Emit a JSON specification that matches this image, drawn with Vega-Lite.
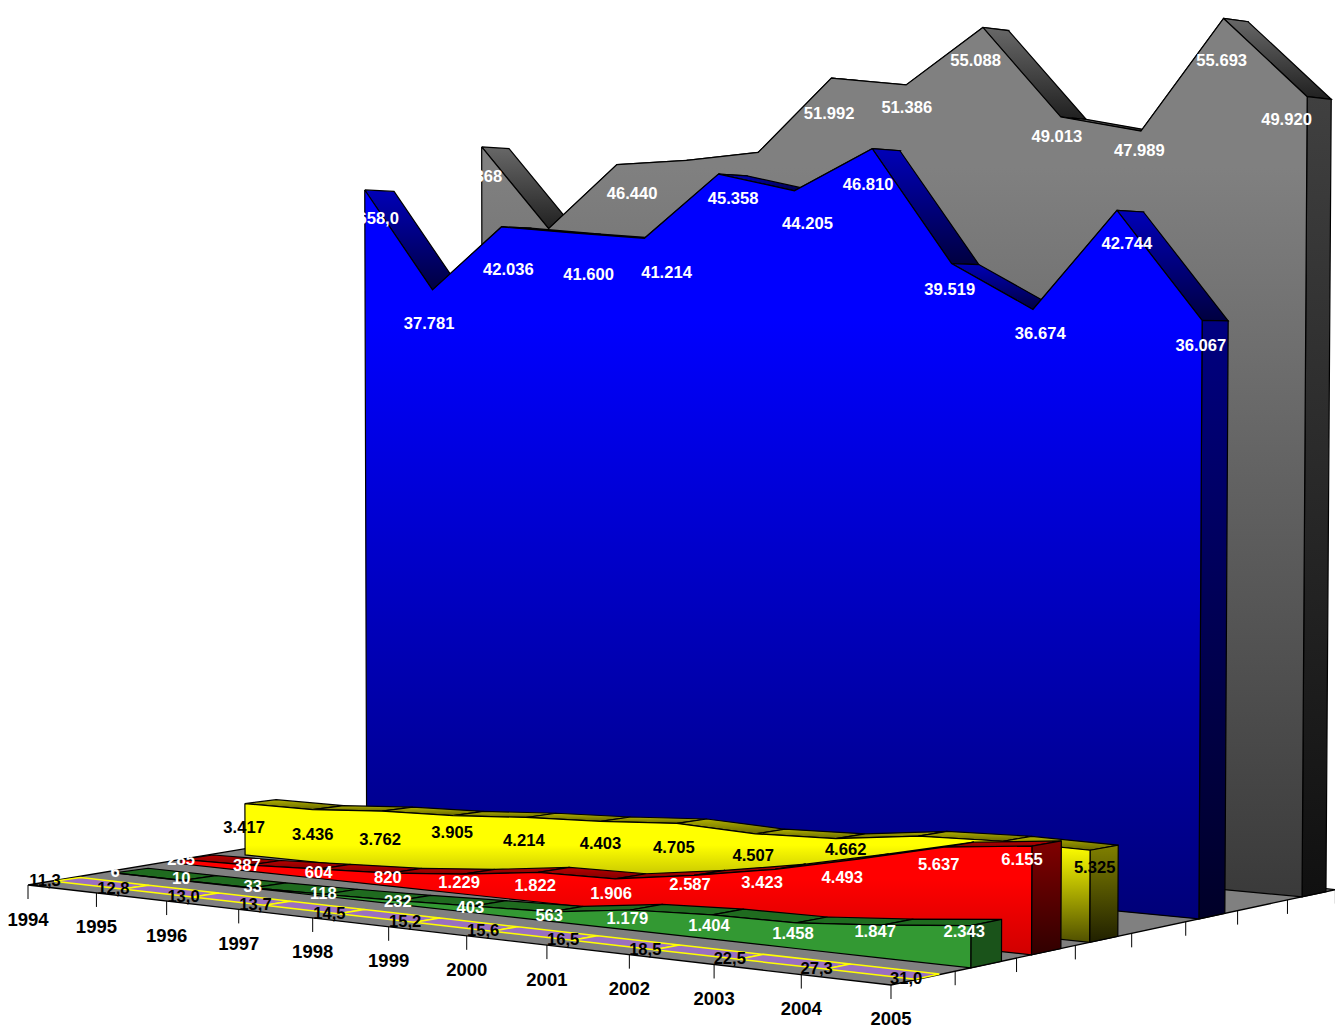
{"$schema":"https://vega.github.io/schema/vega-lite/v6.json","width":1335,"height":1029,"padding":0,"autosize":{"type":"none"},"background":"white","view":{"stroke":null},
"config":{"text":{"font":"Liberation Sans","fontWeight":"bold","fontSize":16.6,"align":"center","baseline":"middle"},"line":{"strokeWidth":1.2}},
"data":{"values":[
{"series":"Gray","year":1994,"value":47868,"label":"47.868"},{"series":"Gray","year":1995,"value":42030,"label":"42.030"},{"series":"Gray","year":1996,"value":46440,"label":"46.440"},{"series":"Gray","year":1997,"value":46650,"label":"46.650"},{"series":"Gray","year":1998,"value":47100,"label":"47.100"},{"series":"Gray","year":1999,"value":51992,"label":"51.992"},{"series":"Gray","year":2000,"value":51386,"label":"51.386"},{"series":"Gray","year":2001,"value":55088,"label":"55.088"},{"series":"Gray","year":2002,"value":49013,"label":"49.013"},{"series":"Gray","year":2003,"value":47989,"label":"47.989"},{"series":"Gray","year":2004,"value":55693,"label":"55.693"},{"series":"Gray","year":2005,"value":49920,"label":"49.920"},
{"series":"Blue","year":1994,"value":44658,"label":"44.658,0"},{"series":"Blue","year":1995,"value":37781,"label":"37.781"},{"series":"Blue","year":1996,"value":42036,"label":"42.036"},{"series":"Blue","year":1997,"value":41600,"label":"41.600"},{"series":"Blue","year":1998,"value":41214,"label":"41.214"},{"series":"Blue","year":1999,"value":45358,"label":"45.358"},{"series":"Blue","year":2000,"value":44205,"label":"44.205"},{"series":"Blue","year":2001,"value":46810,"label":"46.810"},{"series":"Blue","year":2002,"value":39519,"label":"39.519"},{"series":"Blue","year":2003,"value":36674,"label":"36.674"},{"series":"Blue","year":2004,"value":42744,"label":"42.744"},{"series":"Blue","year":2005,"value":36067,"label":"36.067"},
{"series":"Yellow","year":1994,"value":3417,"label":"3.417"},{"series":"Yellow","year":1995,"value":3436,"label":"3.436"},{"series":"Yellow","year":1996,"value":3762,"label":"3.762"},{"series":"Yellow","year":1997,"value":3905,"label":"3.905"},{"series":"Yellow","year":1998,"value":4214,"label":"4.214"},{"series":"Yellow","year":1999,"value":4403,"label":"4.403"},{"series":"Yellow","year":2000,"value":4705,"label":"4.705"},{"series":"Yellow","year":2001,"value":4507,"label":"4.507"},{"series":"Yellow","year":2002,"value":4662,"label":"4.662"},{"series":"Yellow","year":2003,"value":5250,"label":"5.250"},{"series":"Yellow","year":2004,"value":5400,"label":"5.400"},{"series":"Yellow","year":2005,"value":5325,"label":"5.325"},
{"series":"Red","year":1994,"value":285,"label":"285"},{"series":"Red","year":1995,"value":387,"label":"387"},{"series":"Red","year":1996,"value":604,"label":"604"},{"series":"Red","year":1997,"value":820,"label":"820"},{"series":"Red","year":1998,"value":1229,"label":"1.229"},{"series":"Red","year":1999,"value":1822,"label":"1.822"},{"series":"Red","year":2000,"value":1906,"label":"1.906"},{"series":"Red","year":2001,"value":2587,"label":"2.587"},{"series":"Red","year":2002,"value":3423,"label":"3.423"},{"series":"Red","year":2003,"value":4493,"label":"4.493"},{"series":"Red","year":2004,"value":5637,"label":"5.637"},{"series":"Red","year":2005,"value":6155,"label":"6.155"},
{"series":"Green","year":1994,"value":6,"label":"6"},{"series":"Green","year":1995,"value":10,"label":"10"},{"series":"Green","year":1996,"value":33,"label":"33"},{"series":"Green","year":1997,"value":118,"label":"118"},{"series":"Green","year":1998,"value":232,"label":"232"},{"series":"Green","year":1999,"value":403,"label":"403"},{"series":"Green","year":2000,"value":563,"label":"563"},{"series":"Green","year":2001,"value":1179,"label":"1.179"},{"series":"Green","year":2002,"value":1404,"label":"1.404"},{"series":"Green","year":2003,"value":1458,"label":"1.458"},{"series":"Green","year":2004,"value":1847,"label":"1.847"},{"series":"Green","year":2005,"value":2343,"label":"2.343"},
{"series":"Purple","year":1994,"value":11.3,"label":"11,3"},{"series":"Purple","year":1995,"value":12.8,"label":"12,8"},{"series":"Purple","year":1996,"value":13.0,"label":"13,0"},{"series":"Purple","year":1997,"value":13.7,"label":"13,7"},{"series":"Purple","year":1998,"value":14.5,"label":"14,5"},{"series":"Purple","year":1999,"value":15.2,"label":"15,2"},{"series":"Purple","year":2000,"value":15.6,"label":"15,6"},{"series":"Purple","year":2001,"value":16.5,"label":"16,5"},{"series":"Purple","year":2002,"value":18.5,"label":"18,5"},{"series":"Purple","year":2003,"value":22.5,"label":"22,5"},{"series":"Purple","year":2004,"value":27.3,"label":"27,3"},{"series":"Purple","year":2005,"value":31.0,"label":"31,0"}
]},
"transform":[
{"calculate":"datum.year-1994","as":"u"},
{"window":[{"op":"lead","field":"value","as":"next"}],"groupby":["series"],"sort":[{"field":"year","order":"ascending"}]},
{"calculate":"{Purple:0.37,Green:1.25,Red:2.25,Yellow:3.25,Blue:5.25,Gray:7.3}[datum.series]","as":"dF"},
{"calculate":"{Purple:0.75,Green:1.75,Red:2.75,Yellow:3.75,Blue:5.75,Gray:7.8}[datum.series]","as":"dB"},
{"calculate":"{Gray:[-6,-3,15,27,12,-1,2.5,-4.5,-1,2,3,-15.5],Blue:[0,-4.6,6,16,22,15,14,-2.5,0,9.5,13,2],Yellow:[-1,0,-2,-1,-2,0,-3,-2,10,0,0,5],Red:[0,-2,0,-2,-4,-3,-4,-4,-13,-16,-5,-9.5],Green:[0.6,-1.6,0,-1,0,-3,-1.6,-3,-3,-3,-7,-6.6],Purple:[-9,-9,-9,-9,-9,-9,-9,-9,-9,-9,-9,-9]}[datum.series][datum.u]","as":"ldx"},
{"calculate":"{Gray:[29,44,28,50,44,35,22,33,19,19,42,22],Blue:[28,33,42,41,33.5,24,32,35,25,24,33,25],Yellow:[23.5,24,28,16,22.5,22,24,21,10,30,30,17],Red:[0,0,3,4,8,13,14,9,13,18,17,13],Green:[-2,-2.5,-2,-1,0,1,3,8,10,10,6,5],Purple:[-1,-1,-1,-1,-1,-1,-1,-1,-1,-1,-1,-1]}[datum.series][datum.u]","as":"ldy"},
{"calculate":"datum.series=='Purple'?'xtick':'x'","as":"rp"},
{"calculate":"datum.series=='Purple'&&datum.u==0?'floor':'x'","as":"r0"},
{"calculate":"datum.series=='Purple'&&datum.u==11?'floor':'x'","as":"r1"},
{"calculate":"datum.series=='Purple'&&datum.u==11?'dtick':'x'","as":"rd"},
{"calculate":"datum.u<11?'top':'x'","as":"rt"},
{"calculate":"datum.u==11?'side':'x'","as":"rs"},
{"calculate":"[{r:'front',g:0,o:datum.u,u:datum.u,d:datum.dF,v:datum.value},{r:'front',g:0,o:100-datum.u,u:datum.u,d:datum.dF,v:0},{r:datum.u==0?'front':'x',g:0,o:200,u:datum.u,d:datum.dF,v:datum.value},{r:datum.rt,g:datum.u,o:0,u:datum.u,d:datum.dF,v:datum.value},{r:datum.rt,g:datum.u,o:1,u:datum.u+1,d:datum.dF,v:datum.next},{r:datum.rt,g:datum.u,o:2,u:datum.u+1,d:datum.dB,v:datum.next},{r:datum.rt,g:datum.u,o:3,u:datum.u,d:datum.dB,v:datum.value},{r:datum.rt,g:datum.u,o:4,u:datum.u,d:datum.dF,v:datum.value},{r:datum.rs,g:0,o:0,u:11,d:datum.dF,v:datum.value},{r:datum.rs,g:0,o:1,u:11,d:datum.dB,v:datum.value},{r:datum.rs,g:0,o:2,u:11,d:datum.dB,v:0},{r:datum.rs,g:0,o:3,u:11,d:datum.dF,v:0},{r:datum.rs,g:0,o:4,u:11,d:datum.dF,v:datum.value},{r:'label',g:0,o:0,u:datum.u,d:datum.dF,v:datum.value},{r:datum.r0,g:0,o:0,u:0,d:0,v:0},{r:datum.r1,g:0,o:1,u:11,d:0,v:0},{r:datum.r1,g:0,o:2,u:11,d:8,v:0},{r:datum.r0,g:0,o:3,u:0,d:8,v:1000},{r:datum.r0,g:0,o:4,u:0,d:0,v:0},{r:datum.rp,g:0,o:0,u:datum.u,d:0,v:0},{r:datum.rd,g:1,o:0,u:11,d:1,v:0},{r:datum.rd,g:2,o:0,u:11,d:2,v:0},{r:datum.rd,g:3,o:0,u:11,d:3,v:0},{r:datum.rd,g:4,o:0,u:11,d:4,v:0},{r:datum.rd,g:5,o:0,u:11,d:5,v:0},{r:datum.rd,g:6,o:0,u:11,d:6,v:0},{r:datum.rd,g:7,o:0,u:11,d:7,v:0},{r:datum.rd,g:8,o:0,u:11,d:8,v:0}]","as":"c"},
{"flatten":["c"]},
{"filter":"datum.c.r!='x'"},
{"calculate":"datum.c.r","as":"r"},
{"calculate":"datum.c.g","as":"g"},
{"calculate":"datum.c.o","as":"o"},
{"calculate":"datum.c.u/11+0.035*(datum.c.u/11)*(1-datum.c.u/11)","as":"S"},
{"calculate":"datum.c.d/8","as":"T"},
{"calculate":"1-0.168*datum.S+0.151*datum.T","as":"W"},
{"calculate":"(713.3*datum.S+571.4*datum.T+28)/datum.W","as":"bx"},
{"calculate":"(-65.5*datum.S+55*datum.T+885)/datum.W","as":"by"},
{"calculate":"min(datum.c.v,55000)*(0.01595-0.0005*datum.S)/datum.W*(datum.c.d>7?1.006:1)","as":"H"},
{"calculate":"datum.bx+(datum.bx-660)*0.00001*datum.H","as":"X"},
{"calculate":"datum.by-datum.H","as":"Y"},
{"calculate":"datum.Y+14","as":"Y2"},
{"calculate":"datum.bx+datum.ldx","as":"LX"},
{"calculate":"datum.Y+datum.ldy+1","as":"LY"}
],
"encoding":{"x":{"field":"X","type":"quantitative","scale":{"domain":[0,1335],"range":[0,1335],"nice":false,"zero":false},"axis":null},"y":{"field":"Y","type":"quantitative","scale":{"domain":[0,1029],"range":[0,1029],"nice":false,"zero":false},"axis":null},"order":{"field":"o","type":"quantitative"},"detail":{"field":"g","type":"nominal"}},
"layer":[
{"transform":[{"filter":"datum.r=='floor'"}],"mark":{"type":"line","fill":"#808080","stroke":"black","strokeWidth":1.3}},
{"transform":[{"filter":"datum.r=='xtick'||datum.r=='dtick'"}],"mark":{"type":"rule","stroke":"black","strokeWidth":1},"encoding":{"y2":{"field":"Y2"},"detail":{"field":"year","type":"nominal"},"order":null}},
{"transform":[{"filter":"datum.r=='xtick'"}],"mark":{"type":"text","dy":34.5,"fontSize":18.5,"fill":"black"},"encoding":{"text":{"field":"year","type":"nominal"},"order":null,"detail":null}},

{"transform":[{"filter":"datum.r=='top'&&datum.series=='Gray'"}],"mark":{"type":"line","stroke":"black","fill":{"gradient":"linear","x1":0,"y1":0,"x2":0,"y2":1,"stops":[{"offset":0,"color":"#686868"},{"offset":1,"color":"#202020"}]}}},
{"transform":[{"filter":"datum.r=='side'&&datum.series=='Gray'"}],"mark":{"type":"line","stroke":"black","fill":{"gradient":"linear","x1":0,"y1":0,"x2":0,"y2":1,"stops":[{"offset":0,"color":"#404040"},{"offset":1,"color":"#101010"}]}}},
{"transform":[{"filter":"datum.r=='front'&&datum.series=='Gray'"}],"mark":{"type":"line","stroke":"black","fill":{"gradient":"linear","x1":0,"y1":0,"x2":0,"y2":1,"stops":[{"offset":0,"color":"#808080"},{"offset":0.17,"color":"#808080"},{"offset":1,"color":"#3a3a3a"}]}}},
{"transform":[{"filter":"datum.r=='label'&&datum.series=='Gray'"}],"mark":{"type":"text","fill":"white"},"encoding":{"x":{"field":"LX","type":"quantitative"},"y":{"field":"LY","type":"quantitative"},"text":{"field":"label"},"order":null,"detail":null}},

{"transform":[{"filter":"datum.r=='top'&&datum.series=='Blue'"}],"mark":{"type":"line","stroke":"black","fill":{"gradient":"linear","x1":0,"y1":0,"x2":0,"y2":1,"stops":[{"offset":0,"color":"#0000b8"},{"offset":1,"color":"#000040"}]}}},
{"transform":[{"filter":"datum.r=='side'&&datum.series=='Blue'"}],"mark":{"type":"line","stroke":"black","fill":{"gradient":"linear","x1":0,"y1":0,"x2":0,"y2":1,"stops":[{"offset":0,"color":"#000080"},{"offset":1,"color":"#000028"}]}}},
{"transform":[{"filter":"datum.r=='front'&&datum.series=='Blue'"}],"mark":{"type":"line","stroke":"black","fill":{"gradient":"linear","x1":0,"y1":0,"x2":0,"y2":1,"stops":[{"offset":0,"color":"#0000ff"},{"offset":0.22,"color":"#0000ff"},{"offset":1,"color":"#000078"}]}}},
{"transform":[{"filter":"datum.r=='label'&&datum.series=='Blue'"}],"mark":{"type":"text","fill":"white"},"encoding":{"x":{"field":"LX","type":"quantitative"},"y":{"field":"LY","type":"quantitative"},"text":{"field":"label"},"order":null,"detail":null}},

{"transform":[{"filter":"datum.r=='top'&&datum.series=='Yellow'"}],"mark":{"type":"line","stroke":"black","fill":{"gradient":"linear","x1":0,"y1":0,"x2":0,"y2":1,"stops":[{"offset":0,"color":"#b0b000"},{"offset":1,"color":"#666600"}]}}},
{"transform":[{"filter":"datum.r=='side'&&datum.series=='Yellow'"}],"mark":{"type":"line","stroke":"black","fill":{"gradient":"linear","x1":0,"y1":0,"x2":0,"y2":1,"stops":[{"offset":0,"color":"#808000"},{"offset":1,"color":"#202000"}]}}},
{"transform":[{"filter":"datum.r=='front'&&datum.series=='Yellow'"}],"mark":{"type":"line","stroke":"black","fill":{"gradient":"linear","x1":0,"y1":0,"x2":0,"y2":1,"stops":[{"offset":0,"color":"#ffff00"},{"offset":0.3,"color":"#ffff00"},{"offset":1,"color":"#505000"}]}}},
{"transform":[{"filter":"datum.r=='label'&&datum.series=='Yellow'"}],"mark":{"type":"text","fill":"black"},"encoding":{"x":{"field":"LX","type":"quantitative"},"y":{"field":"LY","type":"quantitative"},"text":{"field":"label"},"order":null,"detail":null}},

{"transform":[{"filter":"datum.r=='top'&&datum.series=='Red'"}],"mark":{"type":"line","stroke":"black","fill":{"gradient":"linear","x1":0,"y1":0,"x2":0,"y2":1,"stops":[{"offset":0,"color":"#b80000"},{"offset":1,"color":"#800000"}]}}},
{"transform":[{"filter":"datum.r=='side'&&datum.series=='Red'"}],"mark":{"type":"line","stroke":"black","fill":{"gradient":"linear","x1":0,"y1":0,"x2":0,"y2":1,"stops":[{"offset":0,"color":"#800000"},{"offset":1,"color":"#300000"}]}}},
{"transform":[{"filter":"datum.r=='front'&&datum.series=='Red'"}],"mark":{"type":"line","stroke":"black","fill":{"gradient":"linear","x1":0,"y1":0,"x2":0,"y2":1,"stops":[{"offset":0,"color":"#ff0000"},{"offset":0.3,"color":"#ff0000"},{"offset":1,"color":"#d00000"}]}}},
{"transform":[{"filter":"datum.r=='label'&&datum.series=='Red'"}],"mark":{"type":"text","fill":"white"},"encoding":{"x":{"field":"LX","type":"quantitative"},"y":{"field":"LY","type":"quantitative"},"text":{"field":"label"},"order":null,"detail":null}},

{"transform":[{"filter":"datum.r=='top'&&datum.series=='Green'"}],"mark":{"type":"line","stroke":"black","fill":"#1f6b1f"}},
{"transform":[{"filter":"datum.r=='side'&&datum.series=='Green'"}],"mark":{"type":"line","stroke":"black","fill":"#1a531a"}},
{"transform":[{"filter":"datum.r=='front'&&datum.series=='Green'"}],"mark":{"type":"line","stroke":"black","fill":"#339933"}},
{"transform":[{"filter":"datum.r=='label'&&datum.series=='Green'"}],"mark":{"type":"text","fill":"white"},"encoding":{"x":{"field":"LX","type":"quantitative"},"y":{"field":"LY","type":"quantitative"},"text":{"field":"label"},"order":null,"detail":null}},

{"transform":[{"filter":"datum.r=='top'&&datum.series=='Purple'"}],"mark":{"type":"line","stroke":"#ffff00","strokeWidth":1.5,"fill":"#9a70c0"}},
{"transform":[{"filter":"datum.r=='label'&&datum.series=='Purple'"}],"mark":{"type":"text","fill":"black"},"encoding":{"x":{"field":"LX","type":"quantitative"},"y":{"field":"LY","type":"quantitative"},"text":{"field":"label"},"order":null,"detail":null}}
]}
